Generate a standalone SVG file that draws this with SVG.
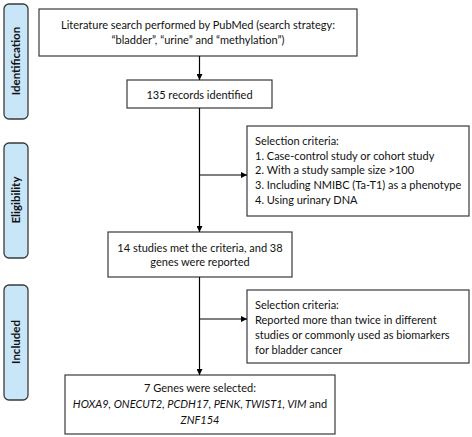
<svg xmlns="http://www.w3.org/2000/svg" width="472" height="437" viewBox="0 0 472 437">
<defs>
<marker id="ah" viewBox="0 0 10 10" refX="10" refY="5" markerWidth="6" markerHeight="6" markerUnits="userSpaceOnUse" orient="auto"><path d="M0,0 L10,5 L0,10 z" fill="#000"/></marker>
<style>
.box{fill:#fff;stroke:#3a3a3a;stroke-width:1.2}
.side{fill:#c9e5f8;stroke:#3a3a3a;stroke-width:1.3}
.t{font-family:Lato,"Liberation Sans",sans-serif;font-size:11px;fill:#111}
.s{font-family:Lato,"Liberation Sans",sans-serif;font-size:11.5px;font-weight:bold;fill:#111}
.c{stroke:#000;stroke-width:1.2;fill:none}
</style>
</defs>
<g id="side-identification"><rect class="side" x="4" y="4" width="24" height="115" rx="5"/><text class="s" transform="translate(20,61) rotate(-90)" text-anchor="middle">Identification</text></g>
<g id="side-eligibility"><rect class="side" x="4" y="143" width="24" height="115" rx="5"/><text class="s" transform="translate(20,200) rotate(-90)" text-anchor="middle">Eligibility</text></g>
<g id="side-included"><rect class="side" x="4" y="285" width="24" height="115" rx="5"/><text class="s" transform="translate(20,342) rotate(-90)" text-anchor="middle">Included</text></g>
<g id="n-search"><rect class="box" x="39" y="9" width="318" height="47"/><text class="t" text-anchor="middle"><tspan x="198" y="29">Literature search performed by PubMed (search strategy:</tspan><tspan x="198" y="43.5">“bladder”, “urine” and “methylation”)</tspan></text></g>
<g id="n-records"><rect class="box" x="127" y="80" width="145" height="28"/><text class="t" x="199.5" y="98.5" text-anchor="middle">135 records identified</text></g>
<g id="n-criteria1"><rect class="box" x="247" y="126" width="222" height="90"/><text class="t"><tspan x="255" y="145">Selection criteria:</tspan><tspan x="255" y="159.5">1. Case-control study or cohort study</tspan><tspan x="255" y="174">2. With a study sample size &gt;100</tspan><tspan x="255" y="189">3. Including NMIBC (Ta-T1) as a phenotype</tspan><tspan x="255" y="204">4. Using urinary DNA</tspan></text></g>
<g id="n-studies"><rect class="box" x="108" y="232" width="184" height="45"/><text class="t" text-anchor="middle"><tspan x="200" y="251.5">14 studies met the criteria, and 38</tspan><tspan x="200" y="266">genes were reported</tspan></text></g>
<g id="n-criteria2"><rect class="box" x="247" y="290" width="222" height="73"/><text class="t"><tspan x="255" y="309">Selection criteria:</tspan><tspan x="255" y="324">Reported more than twice in different</tspan><tspan x="255" y="338.5">studies or commonly used as biomarkers</tspan><tspan x="255" y="353.5">for bladder cancer</tspan></text></g>
<g id="n-genes"><rect class="box" x="65" y="375" width="270" height="59"/><text class="t" text-anchor="middle"><tspan x="200" y="392">7 Genes were selected:</tspan><tspan x="200" y="408"><tspan font-style="italic">HOXA9, ONECUT2, PCDH17, PENK, TWIST1, VIM</tspan> and</tspan><tspan x="200" y="423.5" font-style="italic">ZNF154</tspan></text></g>
<g id="connectors">
<line class="c" x1="199.5" y1="56" x2="199.5" y2="80" marker-end="url(#ah)"/>
<line class="c" x1="199.5" y1="108" x2="199.5" y2="232" marker-end="url(#ah)"/>
<line class="c" x1="199.5" y1="175" x2="247" y2="175" marker-end="url(#ah)"/>
<line class="c" x1="199.5" y1="277" x2="199.5" y2="375" marker-end="url(#ah)"/>
<line class="c" x1="199.5" y1="319" x2="247" y2="319" marker-end="url(#ah)"/>
</g>
</svg>
